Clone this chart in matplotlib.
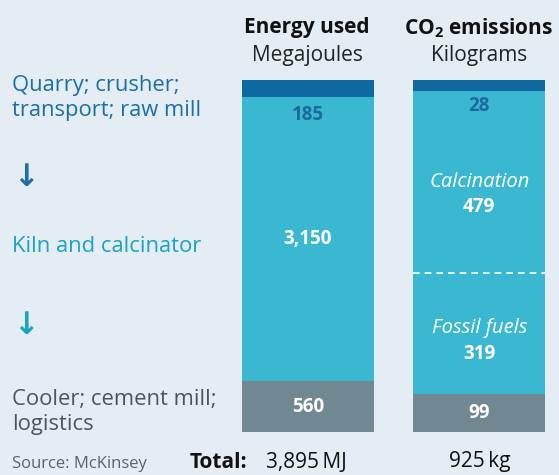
import matplotlib.pyplot as plt
import numpy as np

plt.rcParams['font.family'] = ['Open Sans', 'DejaVu Sans']
plt.rcParams['mathtext.default'] = 'regular'

# data
stages = ['Quarry; crusher; transport; raw mill', 'Kiln and calcinator', 'Cooler; cement mill; logistics']
energy = [185, 3150, 560]          # MJ
co2 = [28, 479, 319, 99]           # kg: quarry, calcination, fossil fuels, cooler
co2_names = ['', 'Calcination', 'Fossil fuels', '']

bg = '#e3edf3'
dark = '#0f69a0'
cyan = '#3bb8d1'
grey = '#718893'

W, H = 559, 475
fig = plt.figure(figsize=(W / 100, H / 100), dpi=100, facecolor=bg)

# bar area in pixels: x 242..545, y 80..432
ax = fig.add_axes([242 / W, 1 - 432 / H, (545 - 242) / W, (432 - 80) / H])
ax.set_facecolor(bg)
w = 0.767
ax.set_xlim(-w / 2, 1 + w / 2)
ax.set_ylim(1, 0)
ax.axis('off')

def stack(vals, x, colors):
    tot = sum(vals)
    shares = np.array(vals) / tot
    tops = np.concatenate([[0], np.cumsum(shares)[:-1]])
    ax.bar(x, shares, bottom=tops, width=w, color=colors, align='center')
    return tops, shares

e_tops, e_sh = stack(energy, 0, [dark, cyan, grey])
c_tops, c_sh = stack(co2, 1, [dark, cyan, cyan, grey])

# dashed divider between calcination and fossil fuels
ax.hlines(c_tops[2], 1 - w / 2, 1 + w / 2, colors='white', linestyles=(0, (4, 3)), lw=1.2)

lab = dict(ha='center', va='center', fontsize=13.5, fontweight='bold')
# energy labels
ax.annotate(f'{energy[0]:,}', (0, e_tops[0] + e_sh[0]), xytext=(0, -13), textcoords='offset points',
            color='#1b6a9c', **lab)
ax.text(0, e_tops[1] + e_sh[1] / 2, f'{energy[1]:,}', color='white', **lab)
ax.text(0, e_tops[2] + e_sh[2] / 2, f'{energy[2]:,}', color='white', **lab)
# co2 labels
ax.annotate(f'{co2[0]}', (1, c_tops[0] + c_sh[0]), xytext=(0, -11), textcoords='offset points',
            color='#1b6a9c', **lab)
for i, dy in ((1, 0), (2, 4)):
    mid = c_tops[i] + c_sh[i] / 2
    ax.annotate(co2_names[i], (1, mid), xytext=(0, dy), textcoords='offset points',
                ha='center', va='center', fontsize=14.5, fontstyle='italic', color='white')
    ax.annotate(f'{co2[i]}', (1, mid), xytext=(0, dy - 18.5), textcoords='offset points',
                ha='center', va='center', fontsize=13.5, fontweight='bold', color='white')
ax.text(1, c_tops[3] + c_sh[3] / 2, f'{co2[3]}', color='white', **lab)

def px(x, y):
    return x / W, 1 - y / H

# column headers
fig.text(*px(307, 28), 'Energy used', ha='center', va='center', fontsize=15, fontweight='bold', color='#111111')
fig.text(*px(307, 56), 'Megajoules', ha='center', va='center', fontsize=15, color='#222222')
fig.text(*px(479, 28), 'CO$_2$ emissions', ha='center', va='center', fontsize=15, fontweight='bold', color='#111111')
fig.text(*px(479, 56), 'Kilograms', ha='center', va='center', fontsize=15, color='#222222')

# left side stage labels
blue_txt = '#1c6ea6'
cyan_txt = '#1aa3c5'
grey_txt = '#48575f'
fig.text(*px(12, 98), 'Quarry; crusher;\ntransport; raw mill', ha='left', va='center', fontsize=15.8,
         color=blue_txt, linespacing=1.22)
fig.text(*px(26, 177), '↓', ha='center', va='center', fontsize=22, fontweight='bold', color=blue_txt,
         family='DejaVu Sans')
fig.text(*px(12, 246), 'Kiln and calcinator', ha='left', va='center', fontsize=15.8, color=cyan_txt)
fig.text(*px(26, 325), '↓', ha='center', va='center', fontsize=22, fontweight='bold', color=cyan_txt,
         family='DejaVu Sans')
fig.text(*px(12, 412), 'Cooler; cement mill;\nlogistics', ha='left', va='center', fontsize=15.8,
         color=grey_txt, linespacing=1.22)

# footer
fig.text(*px(12, 464), 'Source: McKinsey', ha='left', va='center', fontsize=12, color='#56656d')
fig.text(*px(190, 462), 'Total:', ha='left', va='center', fontsize=15, fontweight='bold', color='#111111')
fig.text(*px(266, 462), f'{sum(energy):,}\u2009MJ', ha='left', va='center', fontsize=15, color='#111111')
fig.text(*px(480, 462), f'{sum(co2):,}\u2009kg', ha='center', va='center', fontsize=15, color='#111111')

fig.savefig('out.png', dpi=100, facecolor=bg)
